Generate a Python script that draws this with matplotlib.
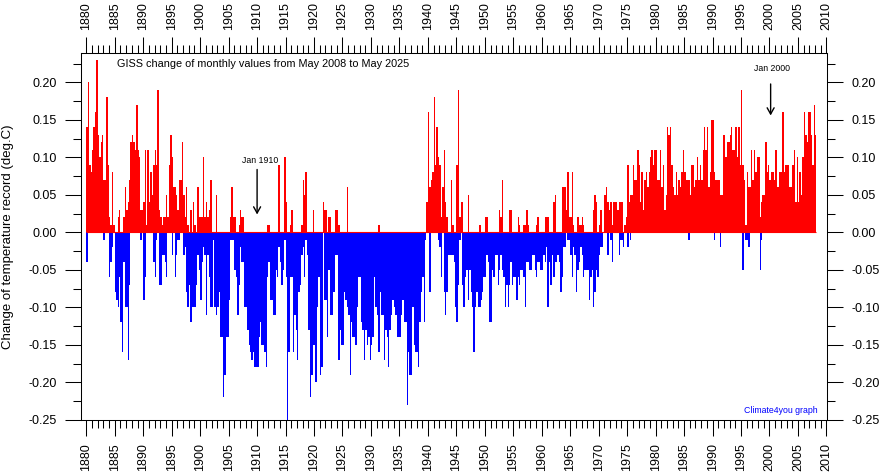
# GISS change of monthly values, redrawn as quarterly peaks
import numpy as np
import matplotlib
matplotlib.use('Agg')
import matplotlib.pyplot as plt

plt.rcParams['font.family'] = ['Liberation Sans', 'DejaVu Sans']

first_year = 1880

# largest rise per quarter, hundredths of a degree, one row = 5 years
rises = [
    14,20,9,8, 11,14,16,23, 13,10,12,13, 7,7,18,9, 2,1,8,1,            # 1880
    0,0,2,3, 0,0,2,6, 3,4,7,12, 13,12,11,17, 11,10,3,3,                # 1885
    4,11,1,11, 4,8,5,9, 11,9,19,3, 2,1,2,2, 5,2,9,13,                  # 1890
    10,6,6,5, 3,7,7,12, 5,2,6,1, 0,3,0,4, 1,0,6,2,                     # 1895
    2,2,10,2, 4,2,3,7, 0,0,0,5, 0,0,0,0, 0,0,0,0,                      # 1900
    0,2,6,2, 2,0,0,1, 3,2,2,0, 0,0,0,0, 0,0,0,0,                       # 1905
    0,0,0,0, 0,0,0,1, 1,0,0,0, 0,0,0,9, 0,0,0,10,                      # 1910
    4,0,0,1, 3,0,0,0, 0,0,0,1, 7,5,8,0, 0,0,0,3,                       # 1915
    0,0,0,0, 0,0,4,3, 3,0,2,2, 0,0,0,3, 3,1,0,0,                       # 1920
    0,0,0,6, 0,0,0,0, 0,0,0,0, 0,0,0,0, 0,0,0,0,                       # 1925
    0,0,0,0, 0,1,0,0, 0,0,0,0, 0,0,0,0, 0,0,0,0,                       # 1930
    0,0,0,0, 0,0,0,0, 0,0,0,0, 0,0,0,0, 0,0,0,4,                       # 1935
    16,6,7,8, 18,9,14,10, 9,2,6,11, 4,2,0,0, 7,1,0,0,                  # 1940
    9,19,2,4, 4,0,0,0, 5,0,0,0, 0,0,0,0, 1,0,0,0,                      # 1945
    2,2,0,0, 0,0,0,0, 0,0,3,2, 7,0,0,0, 0,3,3,0,                       # 1950
    0,0,0,2, 1,0,0,1, 1,3,1,0, 0,0,0,0, 1,2,0,0,                       # 1955
    0,0,2,2, 2,0,0,0, 4,5,0,0, 0,0,6,6, 6,3,8,2,                       # 1960
    2,8,1,0, 0,2,1,1, 2,1,0,0, 0,0,0,0, 3,5,4,0,                       # 1965
    1,3,0,0, 5,6,4,3, 4,1,4,4, 4,3,4,4, 4,0,1,2,                       # 1970
    9,4,5,5, 9,7,7,11, 9,4,8,3, 7,8,6,8, 10,11,9,11,                   # 1975
    11,7,7,11, 6,9,3,5, 14,13,14,9, 6,5,8,5, 7,6,8,11,                 # 1980
    8,7,7,7, 5,9,9,6, 7,10,7,9, 7,11,14,11, 14,6,8,15,                 # 1985
    15,8,7,7, 7,5,5,13, 13,10,12,12, 13,14,11,11, 14,10,14,9,          # 1990
    19,9,7,1, 8,6,6,11, 7,11,8,10, 10,2,4,5, 5,12,8,9,                 # 1995
    7,8,8,7, 11,6,6,8, 8,16,8,9, 9,9,6,6, 9,11,4,10,                   # 2000
    4,8,5,10, 16,13,12,16, 16,13,9,17, 13,0,0,0,                       # 2005
]

# largest drop per quarter, same units, stored as positive numbers
drops = [
    4,0,0,0, 0,0,0,0, 0,0,0,0, 1,0,0,0, 6,4,2,0,                       # 1880
    8,9,10,6, 12,16,4,10, 10,17,7,0, 0,0,0,0, 0,0,1,0,                 # 1885
    9,6,0,0, 0,0,0,4, 6,1,0,7, 7,3,3,4, 6,0,0,0,                       # 1890
    3,0,6,3, 1,1,0,0, 3,2,8,10, 7,12,10,10, 10,7,3,5,                  # 1895
    9,4,2,3, 11,3,6,10, 10,1,10,11, 10,8,14,14, 22,19,14,14,           # 1900
    9,1,1,1, 5,6,11,7, 2,4,4,10, 10,13,15,16, 17,16,18,18,             # 1905
    18,14,12,15, 15,16,18,6, 4,9,9,11, 11,5,6,2, 4,7,5,1,              # 1910
    6,25,16,6, 6,16,11,13, 17,8,7,3, 2,6,1,3, 13,22,19,15,             # 1915
    15,20,10,6, 19,18,0,9, 9,14,5,11, 11,8,8,3, 3,17,13,15,            # 1920
    15,8,9,10, 11,19,12,14, 14,15,10,6, 6,12,13,17, 13,15,14,17,       # 1925
    15,14,6,10, 11,16,8,11, 11,17,13,14, 18,13,11,9, 10,11,14,14,      # 1930
    14,11,9,12, 12,23,16,19, 19,10,15,16, 16,18,12,8, 6,12,1,0,        # 1935
    0,8,0,0, 0,0,0,1, 2,6,0,8, 11,8,3,3, 3,3,4,10,                     # 1940
    12,7,1,0, 7,10,6,5, 9,5,8,10, 16,10,8,10, 10,9,8,6,                # 1945
    6,3,4,12, 12,5,6,3, 3,7,5,3, 5,6,10,7, 10,7,4,7,                   # 1950
    6,6,9,6, 7,5,5,6, 10,4,4,5, 5,3,3,5, 6,4,4,5,                      # 1955
    5,3,4,2, 10,4,7,3, 6,4,4,3, 4,8,6,2, 2,0,1,1,                      # 1960
    3,6,2,3, 8,5,4,2, 3,6,5,5, 5,9,6,5, 10,8,5,6,                      # 1965
    3,2,2,0, 0,0,3,0, 1,4,0,0, 0,0,3,1, 1,2,0,0,                       # 1970
    2,0,1,0, 0,0,0,0, 0,0,0,0, 0,0,0,0, 0,0,0,0,                       # 1975
    0,0,0,0, 0,0,0,0, 0,0,0,0, 0,0,0,0, 0,0,0,0,                       # 1980
    0,0,0,1, 0,0,0,0, 0,0,0,0, 0,0,0,0, 0,0,0,0,                       # 1985
    0,1,0,0, 0,2,0,0, 0,0,0,0, 0,0,0,0, 0,0,0,0,                       # 1990
    0,5,0,1, 1,2,0,0, 0,0,0,0, 0,5,1,0, 0,0,0,0,                       # 1995
    0,0,0,0, 0,0,0,0, 0,0,0,0, 0,0,0,0, 0,0,0,0,                       # 2000
    0,0,0,0, 0,0,0,0, 0,0,0,0, 0,0,0,0,                                # 2005
]

y_ticks = [-0.25, -0.20, -0.15, -0.10, -0.05, 0.00, 0.05, 0.10, 0.15, 0.20]
year_ticks = list(range(1880, 2011, 5))

rises = np.array(rises) / 100.
drops = np.array(drops) / 100.
x_rises = first_year + (np.arange(len(rises)) + 0.5) / 4.
x_drops = first_year + (np.arange(len(drops)) + 0.5) / 4.

W, H = 880., 474.
fig = plt.figure(figsize=(8.8, 4.74), dpi=100)
ax = fig.add_axes([81 / W, 1 - 420 / H, 746 / W, 367 / H])

ax.bar(x_drops, -drops, width=0.25, color='#0000ff', linewidth=0, antialiased=False)
ax.bar(x_rises, rises, width=0.25, color='#ff0000', linewidth=0, antialiased=False)
ax.hlines(0, first_year, x_rises[-4], color='#ff0000', lw=0.8)

ax.set_xlim(1879.07, 2010.1)
ax.set_ylim(-0.25, 0.2393)

ax.set_xticks(year_ticks)
ax.set_xticks(np.arange(1880, 2011), minor=True)
ax.set_xticklabels([str(y) for y in year_ticks], rotation=90, fontsize=9)
ax.set_yticks(y_ticks)
ax.set_yticks(np.arange(-0.25, 0.23, 0.025), minor=True)
ax.set_yticklabels(['%.2f' % v for v in y_ticks], fontsize=9)

ax.tick_params(which='major', length=11.5, width=0.75, top=True, bottom=True,
               left=True, right=True, labeltop=True, labelbottom=True,
               labelleft=True, labelright=True)
ax.tick_params(which='minor', length=6, width=0.75, top=True, bottom=True,
               left=True, right=True)
ax.tick_params(axis='x', which='major', pad=5, labelrotation=90)
ax.tick_params(axis='y', which='major', pad=6)
for side in ax.spines.values():
    side.set_linewidth(0.75)

fig.text(8 / W, 1 - 236.5 / H, 'Change of temperature record (deg.C)', rotation=90,
         fontsize=9.5, ha='center', va='center')

ax.text(1885.35, 0.2245, 'GISS change of monthly values from May 2008 to May 2025',
        fontsize=7.8, ha='left', va='center')
ax.text(2008.4, -0.237, 'Climate4you graph', color='#0000ff', fontsize=6.3,
        ha='right', va='center')

ax.text(1910.5, 0.0965, 'Jan 1910', fontsize=6.3, ha='center', va='center')
ax.annotate('', xy=(1910, 0.024), xytext=(1910, 0.084),
            arrowprops=dict(arrowstyle='->,head_length=0.45,head_width=0.25', color='k', lw=1,
                            shrinkA=0, shrinkB=0))
ax.text(2000.4, 0.219, 'Jan 2000', fontsize=6.3, ha='center', va='center')
ax.annotate('', xy=(2000.2, 0.156), xytext=(2000.2, 0.198),
            arrowprops=dict(arrowstyle='->,head_length=0.45,head_width=0.25', color='k', lw=1,
                            shrinkA=0, shrinkB=0))

fig.savefig('out.png', dpi=100)
